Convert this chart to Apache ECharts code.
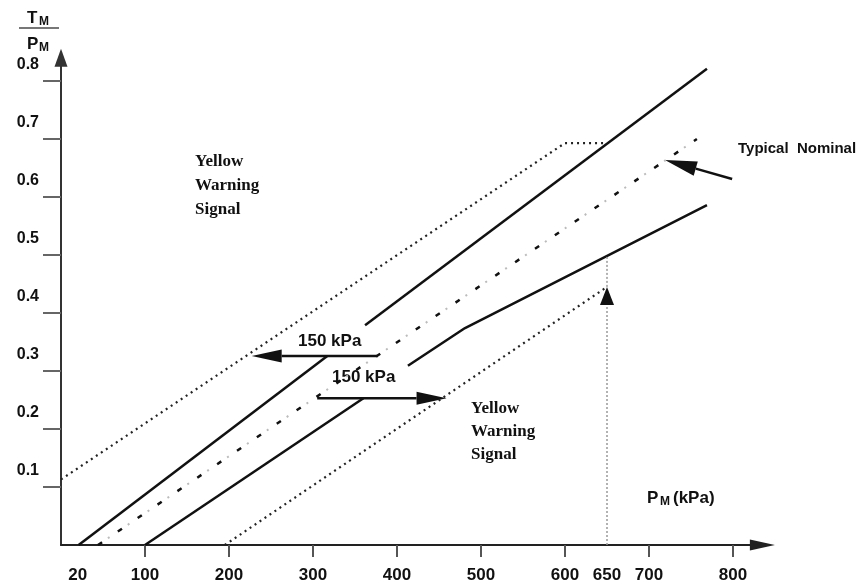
<!DOCTYPE html>
<html>
<head>
<meta charset="utf-8">
<script src="https://cdn.jsdelivr.net/npm/echarts@6/dist/echarts.min.js"></script>
<style>
  html, body { margin: 0; padding: 0; background: #fff; }
  #chart { width: 867px; height: 586px; }
</style>
</head>
<body>
<div id="chart"></div>
<script>
// Axis ticks and labels
const xLabelValues = [20, 100, 200, 300, 400, 500, 600, 650, 700, 800];
const xTickValues = [100, 200, 300, 400, 500, 600, 700, 800];
const yTickValues = [0.1, 0.2, 0.3, 0.4, 0.5, 0.6, 0.7, 0.8];

// Curves: [P_M (kPa), T_M / P_M]
const upperWarning = [[0, 0.113], [600, 0.693], [650, 0.693]];
const upperLimitLow = [[21, 0], [317, 0.326]];
const upperLimitHigh = [[362, 0.379], [769, 0.821]];
const nominal = [[44, 0], [757, 0.70]];
const lowerLimitLow = [[100, 0], [360, 0.253]];
const lowerLimitHigh = [[413, 0.309], [481, 0.374], [769, 0.586]];
const lowerWarning = [[195, 0], [650, 0.445]];
const guide650 = [[650, 0.445], [650, 0.5]];

// Arrows: [fromP, fromRatio, toP, toRatio]
const arrowUpperOffset = [377, 0.326, 227, 0.326];
const arrowLowerOffset = [305, 0.253, 459, 0.253];
const arrowNominal = [799, 0.631, 719, 0.664];
const arrow650 = [650, 0, 650, 0.445];

const SANS = '"Liberation Sans", Arial, sans-serif';
const SERIF = '"Liberation Serif", "Times New Roman", serif';

const arrowData = [arrowUpperOffset, arrowLowerOffset, arrowNominal, arrow650];
const arrowLook = [
  { head: 30, width: 13, stroke: '#111', lineWidth: 2.5, dash: null },
  { head: 30, width: 13, stroke: '#111', lineWidth: 2.5, dash: null },
  { head: 32, width: 15, stroke: '#111', lineWidth: 2.5, dash: null },
  { head: 18, width: 14, stroke: '#999', lineWidth: 1.5, dash: [2, 2] }
];

function lineSeries(data, style) {
  return {
    type: 'line',
    data: data,
    symbol: 'none',
    silent: true,
    animation: false,
    lineStyle: style
  };
}

const chart = echarts.init(document.getElementById('chart'));

chart.setOption({
  backgroundColor: '#fff',
  animation: false,
  grid: { left: 61, top: 57.8, width: 701.4, height: 487.2 },
  xAxis: {
    type: 'value',
    min: 0,
    max: 835,
    interval: 100,
    splitLine: { show: false },
    axisLine: {
      show: true,
      symbol: ['none', 'triangle'],
      symbolSize: [11, 25],
      lineStyle: { color: '#222', width: 2 }
    },
    axisTick: {
      show: true,
      customValues: xTickValues,
      length: 12,
      lineStyle: { color: '#555', width: 2 }
    },
    axisLabel: {
      customValues: xLabelValues,
      margin: 22,
      color: '#111',
      fontFamily: SANS,
      fontWeight: 'bold',
      fontSize: 17
    }
  },
  yAxis: {
    type: 'value',
    min: 0,
    max: 0.84,
    interval: 0.1,
    splitLine: { show: false },
    axisLine: {
      show: true,
      symbol: ['none', 'triangle'],
      symbolSize: [13, 18],
      lineStyle: { color: '#333', width: 2 }
    },
    axisTick: {
      show: true,
      customValues: yTickValues,
      length: 18,
      lineStyle: { color: '#666', width: 2 }
    },
    axisLabel: {
      customValues: yTickValues,
      margin: 22,
      color: '#111',
      fontFamily: SANS,
      fontWeight: 'bold',
      fontSize: 16,
      verticalAlign: 'bottom',
      padding: [0, 0, 8, 0],
      formatter: v => v.toFixed(1)
    }
  },
  series: [
    lineSeries(upperWarning, { color: '#222', width: 2.2, type: [2, 4] }),
    lineSeries(upperLimitLow, { color: '#111', width: 2.5, type: 'solid' }),
    lineSeries(upperLimitHigh, { color: '#111', width: 2.5, type: 'solid' }),
    lineSeries(nominal, { color: '#bbb', width: 2, type: [2, 22], dashOffset: -12 }),
    lineSeries(nominal, { color: '#111', width: 2.5, type: [5, 19] }),
    lineSeries(lowerLimitLow, { color: '#111', width: 2.5, type: 'solid' }),
    lineSeries(lowerLimitHigh, { color: '#111', width: 2.5, type: 'solid' }),
    lineSeries(lowerWarning, { color: '#222', width: 2.2, type: [2, 4] }),
    lineSeries(guide650, { color: '#999', width: 1.5, type: [2, 2] }),
    {
      type: 'custom',
      coordinateSystem: 'cartesian2d',
      silent: true,
      animation: false,
      clip: false,
      data: arrowData,
      encode: { x: [0, 2], y: [1, 3] },
      renderItem: function (params, api) {
        const look = arrowLook[params.dataIndex];
        const p1 = api.coord([api.value(0), api.value(1)]);
        const p2 = api.coord([api.value(2), api.value(3)]);
        const dx = p2[0] - p1[0];
        const dy = p2[1] - p1[1];
        const len = Math.hypot(dx, dy) || 1;
        const ux = dx / len, uy = dy / len;
        const nx = -uy, ny = ux;
        const bx = p2[0] - ux * look.head;
        const by = p2[1] - uy * look.head;
        const hw = look.width / 2;
        return {
          type: 'group',
          children: [
            {
              type: 'line',
              shape: { x1: p1[0], y1: p1[1], x2: bx, y2: by },
              style: { stroke: look.stroke, lineWidth: look.lineWidth, lineDash: look.dash }
            },
            {
              type: 'polygon',
              shape: { points: [[p2[0], p2[1]], [bx + nx * hw, by + ny * hw], [bx - nx * hw, by - ny * hw]] },
              style: { fill: '#111' }
            }
          ]
        };
      }
    }
  ],
  graphic: [
    // Axis title T_M / P_M
    { type: 'text', x: 27, y: 18, style: { text: 'T', font: 'bold 17px ' + SANS, fill: '#111', verticalAlign: 'middle' } },
    { type: 'text', x: 39, y: 22, style: { text: 'M', font: 'bold 12px ' + SANS, fill: '#111', verticalAlign: 'middle' } },
    { type: 'line', shape: { x1: 19, y1: 28, x2: 59, y2: 28 }, style: { stroke: '#777', lineWidth: 2 } },
    { type: 'text', x: 27, y: 44, style: { text: 'P', font: 'bold 17px ' + SANS, fill: '#111', verticalAlign: 'middle' } },
    { type: 'text', x: 39, y: 48, style: { text: 'M', font: 'bold 12px ' + SANS, fill: '#111', verticalAlign: 'middle' } },

    // Axis title P_M (kPa)
    { type: 'text', x: 647, y: 498, style: { text: 'P', font: 'bold 17px ' + SANS, fill: '#111', verticalAlign: 'middle' } },
    { type: 'text', x: 660, y: 502, style: { text: 'M', font: 'bold 12px ' + SANS, fill: '#111', verticalAlign: 'middle' } },
    { type: 'text', x: 673, y: 498, style: { text: '(kPa)', font: 'bold 17px ' + SANS, fill: '#111', verticalAlign: 'middle' } },

    // Zone labels
    { type: 'text', x: 195, y: 150, style: { text: 'Yellow\nWarning\nSignal', font: 'bold 17px ' + SERIF, lineHeight: 24, fill: '#111', verticalAlign: 'top' } },
    { type: 'text', x: 471, y: 397, style: { text: 'Yellow\nWarning\nSignal', font: 'bold 17px ' + SERIF, lineHeight: 23, fill: '#111', verticalAlign: 'top' } },
    { type: 'text', x: 738, y: 149, style: { text: 'Typical  Nominal', font: 'bold 15px ' + SANS, fill: '#111', verticalAlign: 'middle' } },

    // Offset annotations
    { type: 'text', x: 298, y: 341, style: { text: '150 kPa', font: 'bold 17px ' + SANS, fill: '#111', verticalAlign: 'middle' } },
    { type: 'text', x: 332, y: 377, style: { text: '150 kPa', font: 'bold 17px ' + SANS, fill: '#111', verticalAlign: 'middle' } }
  ]
});
</script>
</body>
</html>
